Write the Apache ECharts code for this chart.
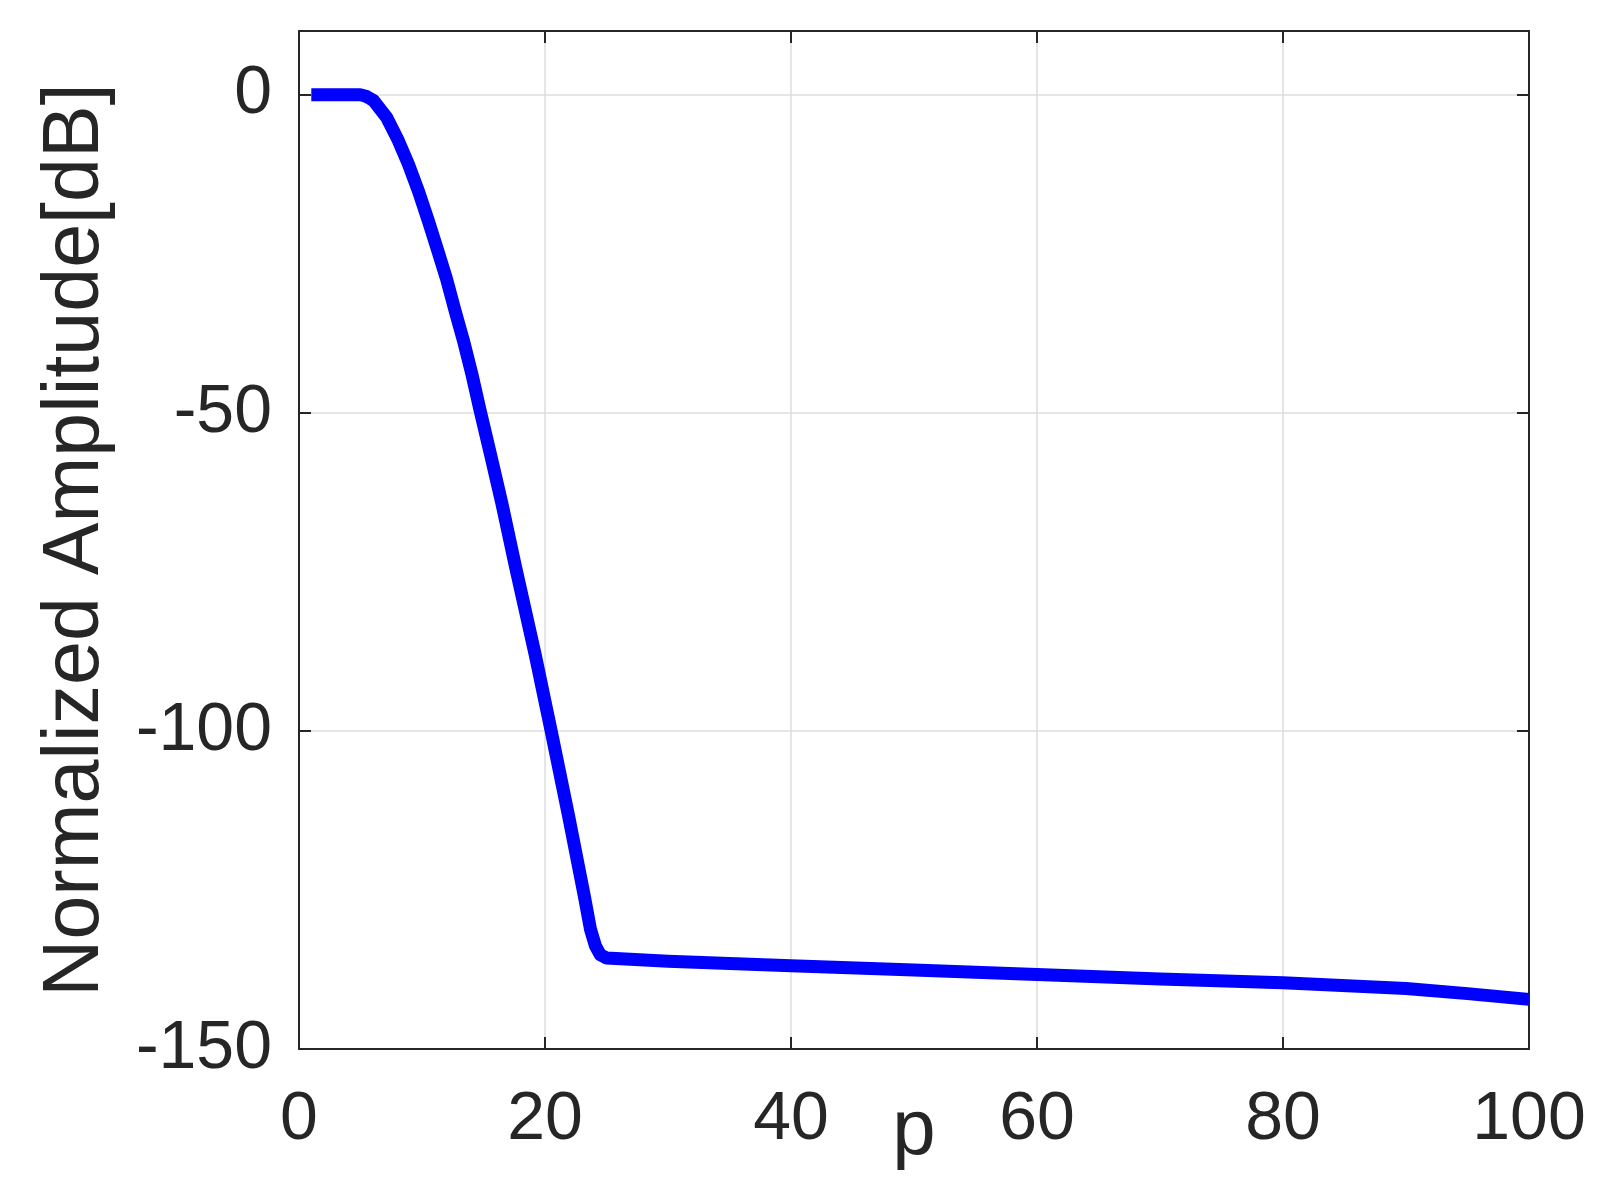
<!DOCTYPE html>
<html>
<head>
<meta charset="utf-8">
<script src="https://cdn.jsdelivr.net/npm/echarts@6/dist/echarts.min.js"></script>
<style>
html,body{margin:0;padding:0;background:#fff;}
#chart{width:1609px;height:1183px;}
</style>
</head>
<body>
<div id="chart"></div>
<script>
// p values (x) and normalized amplitude in dB (y)
const pX = [1, 3, 4.96, 5.5, 6.04, 7.13, 8.07, 8.89, 9.7, 10.51, 11.33, 12.0, 12.68, 13.36, 14.04, 14.72, 15.6, 16.5, 17.6, 19.2, 20.5, 21.9, 23.2, 23.7, 24.1, 24.5, 25.0, 30, 40, 50, 60, 70, 80, 90, 95, 100];
const amp = [0, 0, 0, -0.3, -0.9, -3.6, -7.2, -10.9, -15.1, -19.8, -24.8, -29.0, -33.9, -38.6, -43.8, -49.6, -56.8, -64.3, -74.2, -88.0, -100.0, -113.2, -126.0, -131.2, -133.8, -135.2, -135.7, -136.2, -136.9, -137.6, -138.3, -139.0, -139.6, -140.5, -141.3, -142.2];
const xTicks = [0, 20, 40, 60, 80, 100];
const yTicks = [0, -50, -100, -150];
const xLabel = 'p';
const yLabel = 'Normalized Amplitude[dB]';

const seriesData = pX.map((x, i) => [x, amp[i]]);
const textColor = '#262626';
const font = 'Liberation Sans, Arial, Helvetica, sans-serif';

const chart = echarts.init(document.getElementById('chart'), null, {renderer: 'canvas'});
chart.setOption({
  animation: false,
  backgroundColor: '#ffffff',
  grid: {left: 299, right: 80, top: 31, bottom: 134, containLabel: false},
  xAxis: [{
    type: 'value', min: 0, max: 100, interval: 20, position: 'bottom',
    name: xLabel, nameLocation: 'middle', nameGap: 44, nameMoveOverlap: false,
    nameTextStyle: {fontSize: 78, color: textColor, fontFamily: font},
    axisLine: {show: true, onZero: false, lineStyle: {color: textColor, width: 2}},
    axisTick: {show: true, inside: true, length: 12, lineStyle: {color: textColor, width: 2}},
    axisLabel: {fontSize: 68, color: textColor, fontFamily: font, margin: 37,
      formatter: v => xTicks.includes(v) ? String(v) : ''},
    splitLine: {show: true, lineStyle: {color: '#dcdcdc', width: 1.5}}
  }, {
    type: 'value', min: 0, max: 100, interval: 20, position: 'top',
    axisLine: {show: true, onZero: false, lineStyle: {color: textColor, width: 2}},
    axisTick: {show: true, inside: true, length: 12, lineStyle: {color: textColor, width: 2}},
    axisLabel: {show: false},
    splitLine: {show: false}
  }],
  yAxis: [{
    type: 'value', min: -150, max: 10, interval: 50, position: 'left',
    name: yLabel, nameLocation: 'middle', nameGap: 183, nameRotate: 90, nameMoveOverlap: false,
    nameTextStyle: {fontSize: 79, color: textColor, fontFamily: font},
    axisLine: {show: true, onZero: false, lineStyle: {color: textColor, width: 2}},
    axisTick: {show: true, inside: true, length: 12, lineStyle: {color: textColor, width: 2}},
    axisLabel: {fontSize: 68, color: textColor, fontFamily: font, margin: 27,
      showMaxLabel: false,
      formatter: v => yTicks.includes(v) ? String(v) : ''},
    splitLine: {show: true, lineStyle: {color: '#dcdcdc', width: 1.5}}
  }, {
    type: 'value', min: -150, max: 10, interval: 50, position: 'right',
    axisLine: {show: true, onZero: false, lineStyle: {color: textColor, width: 2}},
    axisTick: {show: true, inside: true, length: 12, lineStyle: {color: textColor, width: 2}},
    axisLabel: {show: false},
    splitLine: {show: false}
  }],
  series: [{
    type: 'line',
    xAxisIndex: 0, yAxisIndex: 0,
    data: seriesData,
    showSymbol: false,
    smooth: false,
    clip: true,
    lineStyle: {color: '#0000ff', width: 13, cap: 'butt', join: 'round'}
  }]
});
</script>
</body>
</html>
